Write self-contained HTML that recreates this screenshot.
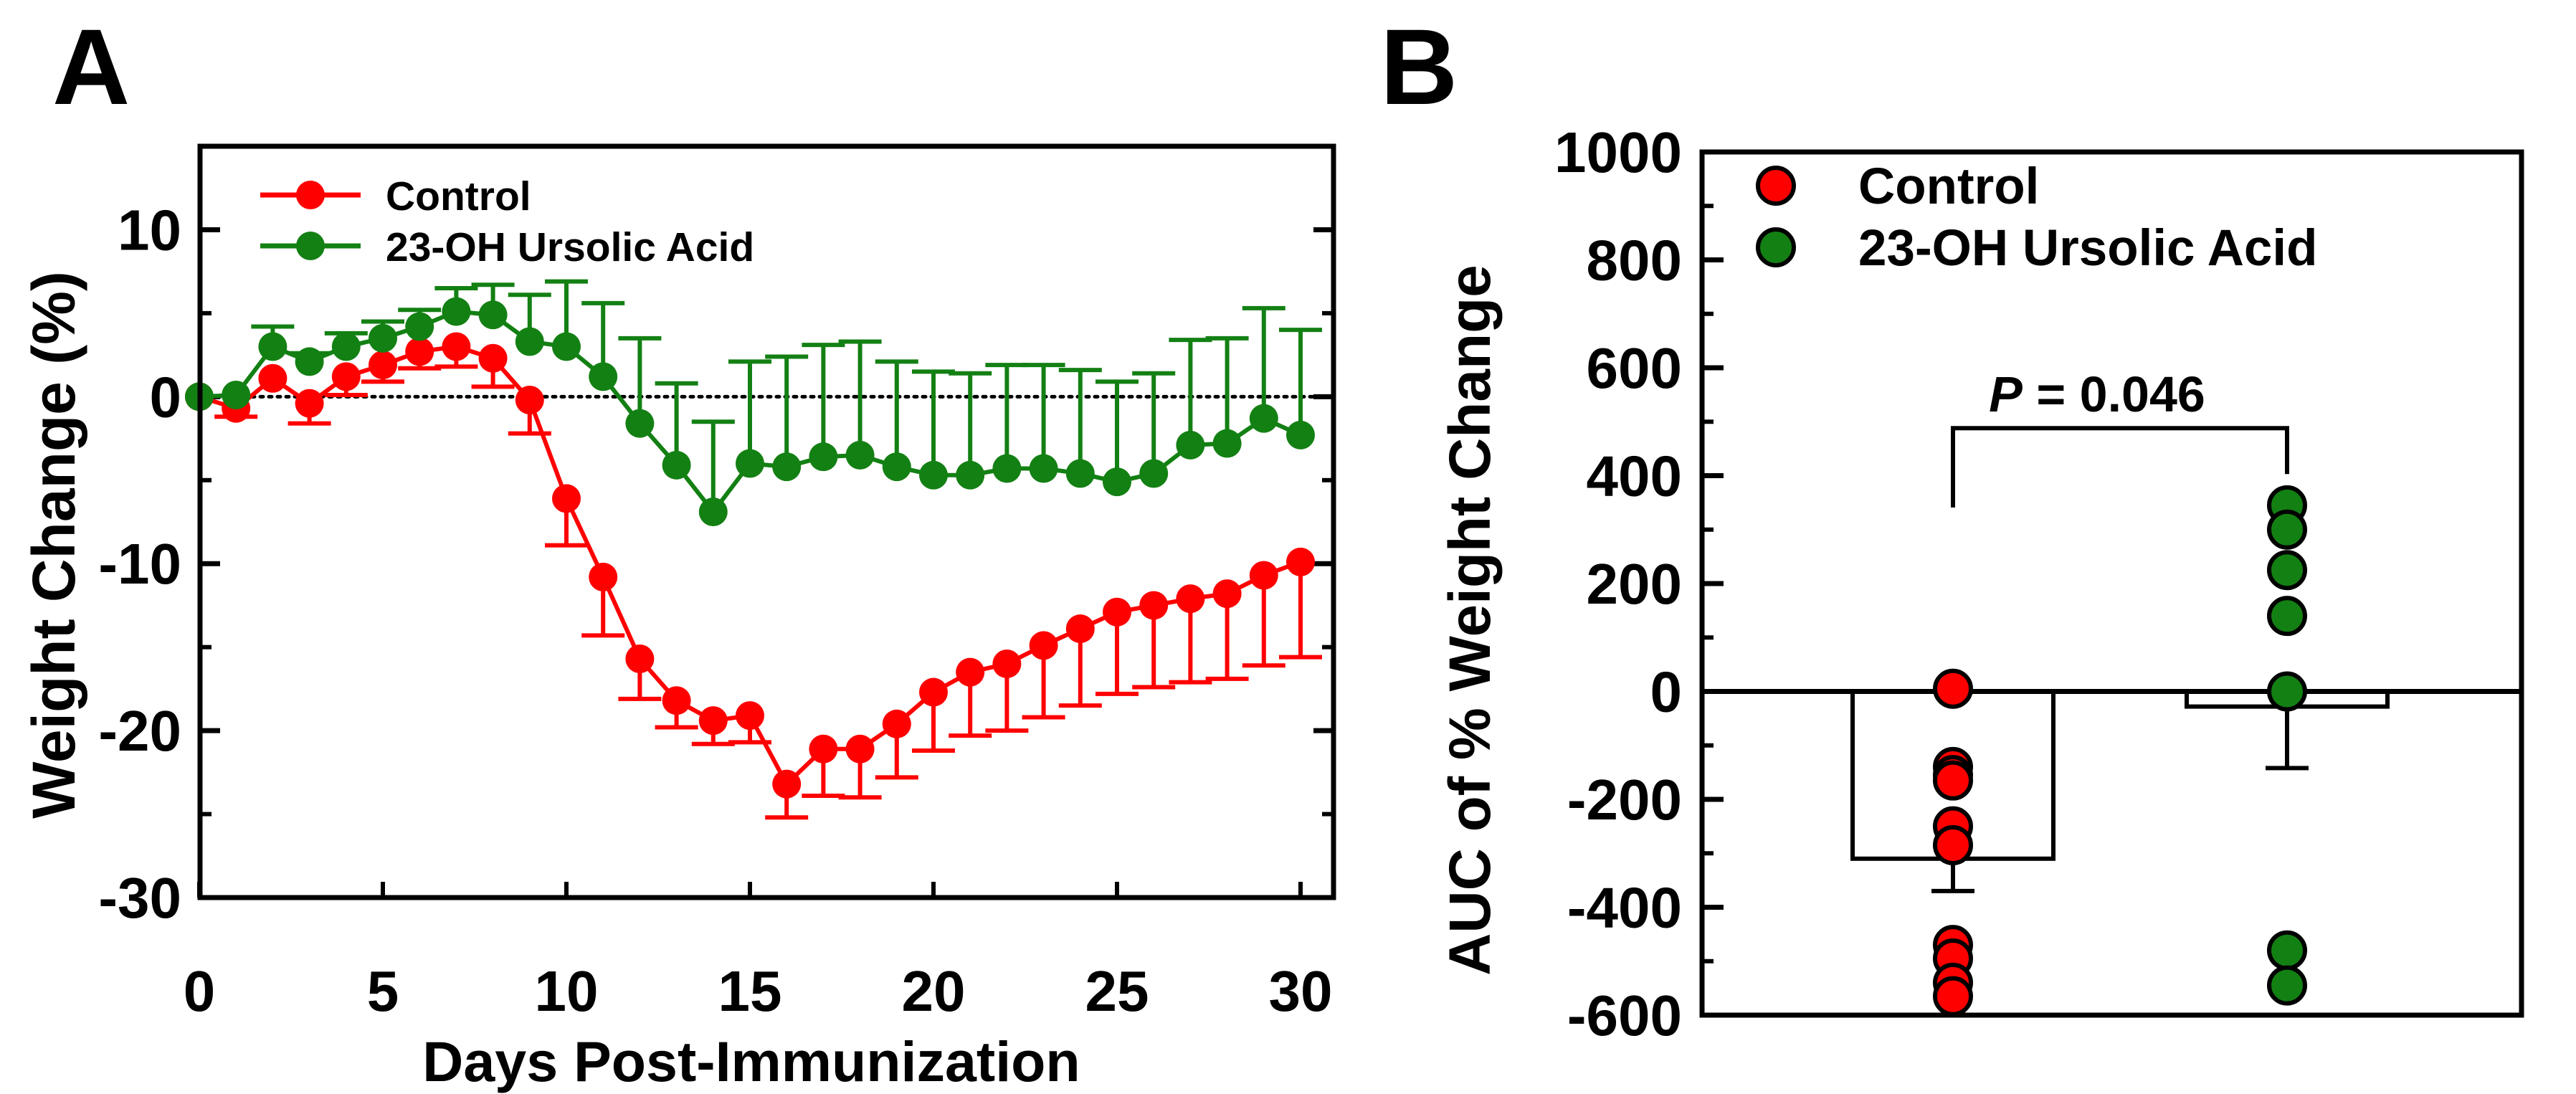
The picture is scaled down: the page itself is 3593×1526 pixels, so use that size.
<!DOCTYPE html>
<html><head><meta charset="utf-8"><style>
html,body{margin:0;padding:0;background:#fff;}
svg{display:block;font-family:"Liberation Sans",Arial,sans-serif;font-weight:bold;}
</style></head><body>
<svg id="chart" width="3593" height="1526" viewBox="0 0 3593 1526" xmlns="http://www.w3.org/2000/svg">
<g id="pa"></g>
<g id="pb"></g>
</svg>
<script>
const days = [0,1,2,3,4,5,6,7,8,9,10,11,12,13,14,15,16,17,18,19,20,21,22,23,24,25,26,27,28,29,30];
const controlMean = [0,-0.7,1.1,-0.4,1.2,1.9,2.7,3.0,2.3,-0.2,-6.1,-10.8,-15.7,-18.2,-19.4,-19.1,-23.2,-21.1,-21.1,-19.6,-17.7,-16.5,-16.0,-14.9,-13.9,-12.9,-12.5,-12.1,-11.8,-10.7,-9.9];
const controlErr = [0,0.5,0,1.2,1.1,1.0,1.0,1.2,1.7,2.0,2.8,3.5,2.4,1.6,1.4,1.6,2.0,2.8,2.9,3.2,3.5,3.8,4.0,4.3,4.6,4.9,4.9,5.0,5.1,5.4,5.7];
const ursolicMean = [0,0.1,3.0,2.1,3.0,3.5,4.2,5.1,4.9,3.3,3.0,1.2,-1.6,-4.1,-6.9,-4.0,-4.2,-3.6,-3.5,-4.2,-4.7,-4.7,-4.3,-4.3,-4.6,-5.1,-4.6,-2.9,-2.8,-1.3,-2.3];
const ursolicErr = [0,0,1.2,0.5,0.8,1.0,1.0,1.4,1.8,2.8,3.9,4.4,5.1,4.9,5.4,6.1,6.6,6.7,6.8,6.3,6.2,6.1,6.2,6.2,6.2,6.0,6.0,6.3,6.3,6.6,6.3];
const xTicksA = [0,5,10,15,20,25,30];
const yTicksA = [10,0,-10,-20,-30];

const groupsB = ["Control","23-OH Ursolic Acid"];
const barMeansB = [-310,-28];
const barErrB = [60,114];
const controlDots = [5,-140,-155,-165,-250,-285,-470,-495,-540,-565];
const ursolicDots = [345,300,225,140,0,-480,-545];
const yTicksB = [1000,800,600,400,200,0,-200,-400,-600];

const NS="http://www.w3.org/2000/svg";
function mk(p,tag,attrs,txt){const e=document.createElementNS(NS,tag);for(const k in attrs)e.setAttribute(k,attrs[k]);if(txt!==undefined)e.textContent=txt;p.appendChild(e);return e;}
const RED="#ff0000", GREEN="#138013";

// ---------- Panel A ----------
const pa=document.getElementById('pa');
const AL=279,AR=1860,AT=204,AB=1252;
const ax=d=>278+(d-0)*(1814-278)/30;
const ay=v=>AT+(15-v)*(AB-AT)/45;
let t;
t=mk(pa,'text',{x:73,y:145,'font-size':150},'A');

t=mk(pa,'line',{x1:AL,x2:AR,y1:ay(0),y2:ay(0),stroke:'#000','stroke-width':5,'stroke-dasharray':'4 8','stroke-linecap':'round'});

yTicksA.forEach(v=>{
  const y=ay(v);
  let e=mk(pa,'line',{x1:AL,x2:AL+28,y1:y,y2:y,stroke:'#000','stroke-width':7});
  
  e=mk(pa,'line',{x1:AR-28,x2:AR,y1:y,y2:y,stroke:'#000','stroke-width':7});
  
  e=mk(pa,'text',{x:AL-26,y:y+28,'font-size':80,'text-anchor':'end'},String(v));
  
  if(v>-30){const ym=ay(v-5);
    e=mk(pa,'line',{x1:AL,x2:AL+16,y1:ym,y2:ym,stroke:'#000','stroke-width':6});
    
    e=mk(pa,'line',{x1:AR-16,x2:AR,y1:ym,y2:ym,stroke:'#000','stroke-width':6});
    }
});
xTicksA.forEach(d=>{
  const x=ax(d);
  let e=mk(pa,'line',{x1:x,x2:x,y1:AB,y2:AB-22,stroke:'#000','stroke-width':6});
  
  e=mk(pa,'text',{x:x,y:1410,'font-size':80,'text-anchor':'middle'},String(d));
  
});
t=mk(pa,'text',{x:1048,y:1508,'font-size':79,'text-anchor':'middle'},'Days Post-Immunization');

t=mk(pa,'text',{x:0,y:0,'font-size':84,'text-anchor':'middle',transform:'translate(104,760) rotate(-90)'},'Weight Change (%)');


function series(mean,err,color,up,name){
  const g=mk(pa,'g',{});
  
  days.forEach((d,i)=>{ if(err[i]>0){
    const x=ax(d),y0=ay(mean[i]),y1=ay(mean[i]+(up?err[i]:-err[i]));
    let e=mk(g,'line',{x1:x,x2:x,y1:y0,y2:y1,stroke:color,'stroke-width':6});
    
    e=mk(g,'line',{x1:x-30,x2:x+30,y1:y1,y2:y1,stroke:color,'stroke-width':6});
    }});
  let e=mk(g,'polyline',{points:days.map((d,i)=>ax(d)+','+ay(mean[i])).join(' '),fill:'none',stroke:color,'stroke-width':6});
  
  days.forEach((d,i)=>{e=mk(g,'circle',{cx:ax(d),cy:ay(mean[i]),r:20,fill:color});
    });
}
series(controlMean,controlErr,RED,false,'control');
series(ursolicMean,ursolicErr,GREEN,true,'ursolic');
t=mk(pa,'rect',{x:AL,y:AT,width:AR-AL,height:AB-AT,fill:'none',stroke:'#000','stroke-width':7});

[[RED,'Control',272],[GREEN,'23-OH Ursolic Acid',343]].forEach(([c,l,y])=>{
  let e=mk(pa,'line',{x1:363,x2:503,y1:y,y2:y,stroke:c,'stroke-width':7});
  
  e=mk(pa,'circle',{cx:433,cy:y,r:20,fill:c});
  
  e=mk(pa,'text',{x:538,y:y+21,'font-size':57},l);
  
});

// ---------- Panel B ----------
const pb=document.getElementById('pb');
const BL=2374,BR=3517,BT=212,BB=1416;
const by=v=>BT+(1000-v)*(BB-BT)/1600;
const bx=[2724,3190];
t=mk(pb,'text',{x:1925,y:145,'font-size':150},'B');

yTicksB.forEach(v=>{
  const y=by(v);
  let e=mk(pb,'line',{x1:BL,x2:BL+30,y1:y,y2:y,stroke:'#000','stroke-width':7});
  
  e=mk(pb,'text',{x:BL-28,y:y+28,'font-size':80,'text-anchor':'end'},String(v));
  
  if(v>-600){const ym=by(v-100);
    e=mk(pb,'line',{x1:BL,x2:BL+16,y1:ym,y2:ym,stroke:'#000','stroke-width':6});
    }
});
t=mk(pb,'text',{x:0,y:0,'font-size':82,'text-anchor':'middle',transform:'translate(2078,865) rotate(-90)'},'AUC of % Weight Change');

barMeansB.forEach((m,i)=>{
  const x=bx[i];
  let e=mk(pb,'rect',{x:x-140,y:by(0),width:280,height:by(m)-by(0),fill:'#fff',stroke:'#000','stroke-width':6});
  
  e=mk(pb,'line',{x1:x,x2:x,y1:by(m),y2:by(m-barErrB[i]),stroke:'#000','stroke-width':6});
  
  e=mk(pb,'line',{x1:x-30,x2:x+30,y1:by(m-barErrB[i]),y2:by(m-barErrB[i]),stroke:'#000','stroke-width':6});
  
});
t=mk(pb,'line',{x1:BL,x2:BR,y1:by(0),y2:by(0),stroke:'#000','stroke-width':7});

[[controlDots,RED,0],[ursolicDots,GREEN,1]].forEach(([arr,c,i])=>{
  arr.forEach(v=>{let e=mk(pb,'circle',{cx:bx[i],cy:by(v),r:25,fill:c,stroke:'#000','stroke-width':6});
    });
});
t=mk(pb,'path',{d:`M${bx[0]},${by(341)} V${by(488)} H${bx[1]} V${by(403)}`,fill:'none',stroke:'#000','stroke-width':6});

t=mk(pb,'text',{x:2925,y:by(519),'font-size':70,'text-anchor':'middle'});

mk(t,'tspan',{'font-style':'italic'},'P');mk(t,'tspan',{},' = 0.046');
t=mk(pb,'rect',{x:BL,y:BT,width:BR-BL,height:BB-BT,fill:'none',stroke:'#000','stroke-width':7});

[[RED,'Control',259],[GREEN,'23-OH Ursolic Acid',345]].forEach(([c,l,y])=>{
  let e=mk(pb,'circle',{cx:2477,cy:y,r:25,fill:c,stroke:'#000','stroke-width':6});
  
  e=mk(pb,'text',{x:2592,y:y+25,'font-size':71},l);
  
});
</script>
</body></html>
